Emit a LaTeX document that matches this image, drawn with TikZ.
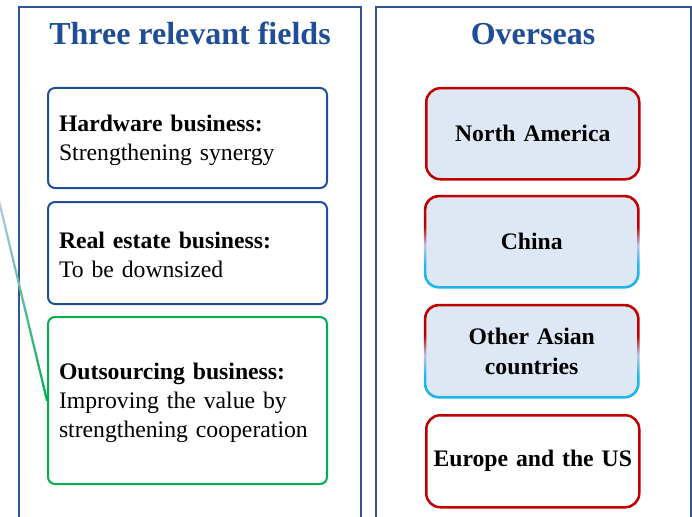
\documentclass[tikz,border=0pt]{standalone}
\usepackage{fontspec}
\setmainfont{Liberation Serif}
\usetikzlibrary{calc}

\definecolor{panelblue}{HTML}{2F5597}
\definecolor{titleblue}{HTML}{1F4E96}
\definecolor{fieldblue}{HTML}{1F4E9A}
\definecolor{fieldgreen}{HTML}{00B050}
\definecolor{regionred}{HTML}{C00000}
\definecolor{regionfill}{HTML}{DEE8F4}
\definecolor{rimsky}{HTML}{1FB5EC}
\definecolor{rimpale}{HTML}{B4C7E7}
\definecolor{linepale}{HTML}{B4C7E7}

% red at the top of the rim, sky blue at the bottom
\pgfdeclareverticalshading{rimshade}{100bp}{color(0bp)=(rimsky); color(37bp)=(rimsky); color(48bp)=(rimpale); color(58bp)=(regionred); color(100bp)=(regionred)}

\begin{document}
\begin{tikzpicture}[x=1pt, y=-1pt,
  panel/.style={draw=panelblue, line width=2pt},
  paneltitle/.style={font=\fontsize{32}{38}\selectfont\bfseries, text=titleblue, anchor=base, inner sep=0pt},
  field/.style={line width=2pt, rounded corners=7pt, text width=257pt, inner xsep=11pt, inner ysep=0pt,
    align=left, font=\fontsize{23.7}{29}\selectfont, anchor=north west},
  region/.style={rounded corners=14pt, minimum width=213pt, text width=205pt, align=center, inner sep=0pt,
    font=\fontsize{23.7}{30}\selectfont\bfseries, anchor=north west},
  redrim/.style={draw=regionred, line width=2.5pt}
]
\useasboundingbox (0,0) rectangle (692,516);

% the two panels
\draw[panel] (19,530) -- (19,7) -- (361,7) -- (361,530);
\draw[panel] (376,530) -- (376,7) -- (690.5,7) -- (690.5,530);

\node[paneltitle] (lefttitle) at (190,45) {Three relevant fields};
\node[paneltitle] (righttitle) at (533,45) {Overseas};

% business fields
\node[field, draw=fieldblue, minimum height=100pt] (fld1) at (47,87)
  {\rule{0pt}{21pt}\textbf{Hardware business:}\\Strengthening synergy};
\node[field, draw=fieldblue, minimum height=102pt] (fld2) at (47,201)
  {\rule{0pt}{21pt}\textbf{Real estate business:}\\To be downsized};
\node[field, draw=fieldgreen, minimum height=167pt] (fld3) at (47,316)
  {\rule{0pt}{21pt}\textbf{Outsourcing business:}\\Improving the value by\\strengthening cooperation};

% overseas regions
\node[region, redrim, fill=regionfill, minimum height=91pt] (na) at (425,87) {North America};
\node[region, fill=regionfill, minimum height=91pt] (china) at (425,196) {China};
\node[region, fill=regionfill, minimum height=92pt] (asia) at (425,305) {Other Asian\\countries};
\node[region, redrim, minimum height=92pt] (eu) at (425,414) {Europe and the US};

% shaded rims of the two Asian regions
\foreach \r in {china,asia}{
  \shade[shading=rimshade, even odd rule, rounded corners=15.25pt]
    ($(\r.north west)+(-1.25,-1.25)$) rectangle ($(\r.south east)+(1.25,1.25)$)
    [rounded corners=12.75pt]
    ($(\r.north west)+(1.25,1.25)$) rectangle ($(\r.south east)+(-1.25,-1.25)$);
}

% fading lead line into the outsourcing field
\coordinate (leadtop) at (-1,201);
\foreach \i in {0,...,39}{
  \pgfmathsetmacro\a{\i/40}
  \pgfmathsetmacro\b{(\i+1)/40}
  \pgfmathtruncatemacro\p{100*\i/39}
  \draw[color=fieldgreen!\p!linepale, line width=2.2pt, line cap=round]
    ($(leadtop)!\a!(fld3.west)$) -- ($(leadtop)!\b!(fld3.west)$);
}
\end{tikzpicture}
\end{document}
